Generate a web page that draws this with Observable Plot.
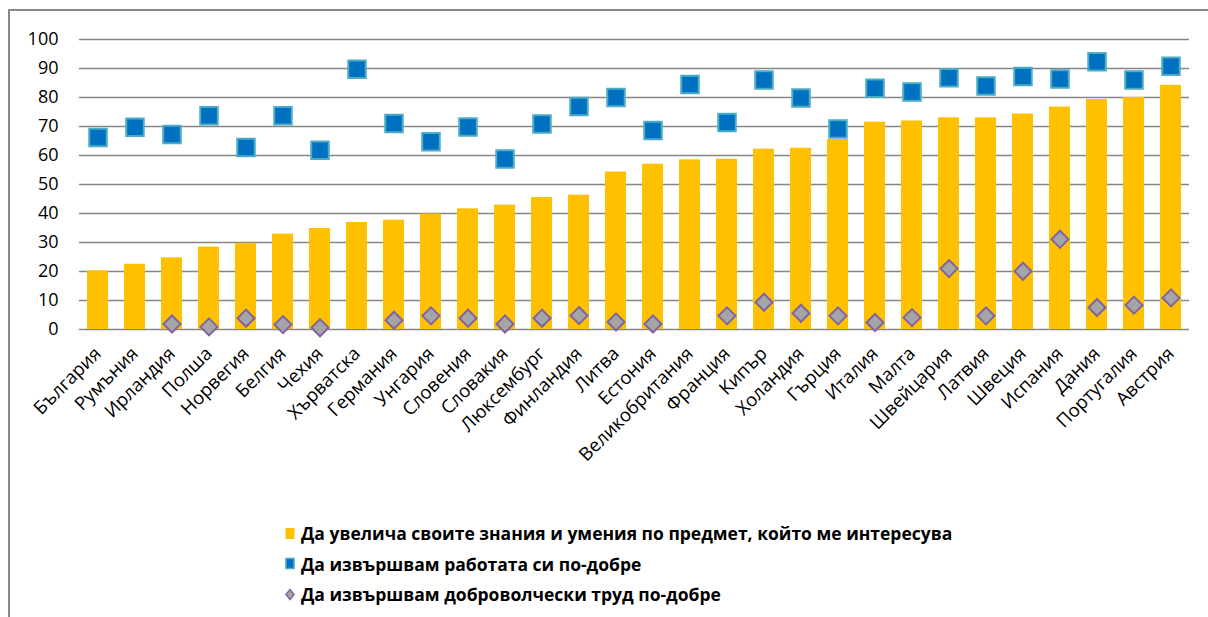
<!DOCTYPE html>
<html><head><meta charset="utf-8">
<script src="https://cdn.jsdelivr.net/npm/d3@7"></script>
<script src="https://cdn.jsdelivr.net/npm/@observablehq/plot@0.6"></script>
<style>
body{margin:0;background:#fff;font-family:"Open Sans",sans-serif;}
#wrap{position:relative;width:1208px;height:617px;overflow:hidden;background:#fff;}
#frame{position:absolute;left:8px;top:9px;width:1300px;height:700px;border-left:2px solid #888;border-top:2px solid #888;}
#chart{position:absolute;left:0;top:0;}
#legend{position:absolute;left:285px;top:518px;font-weight:bold;font-size:17.5px;color:#000;white-space:nowrap;}
.row{height:30.5px;display:flex;align-items:center;}
.row svg{margin-right:6px;}
</style></head>
<body><div id="wrap"><div id="frame"></div><div id="chart"></div><div id="legend"></div></div>
<script>
const countries = ["България","Румъния","Ирландия","Полша","Норвегия","Белгия","Чехия","Хърватска","Германия","Унгария","Словения","Словакия","Люксембург","Финландия","Литва","Естония","Великобритания","Франция","Кипър","Холандия","Гърция","Италия","Малта","Швейцария","Латвия","Швеция","Испания","Дания","Португалия","Австрия"];
const knowledge = [20.2,22.5,24.7,28.4,29.7,32.9,34.8,36.9,37.7,39.8,41.6,42.9,45.5,46.3,54.3,57.0,58.5,58.7,62.2,62.5,65.5,71.5,71.9,73.0,73.0,74.3,76.7,79.3,80.0,84.2];
const work = [66.2,69.7,67.2,73.7,62.8,73.7,61.8,89.7,71.0,64.7,69.8,58.8,70.9,76.9,80.0,68.6,84.5,71.4,86.0,79.8,69.1,83.2,81.9,86.8,84.0,87.2,86.4,92.3,86.0,90.8];
const volunteer = [null,null,1.9,0.9,3.9,1.7,0.6,null,3.2,4.7,3.9,1.9,3.9,4.8,2.6,1.9,null,4.7,9.4,5.6,4.7,2.4,4.1,21.0,4.7,20.1,31.1,7.6,8.4,10.9];
const yTicks = [0,10,20,30,40,50,60,70,80,90,100];
const seriesNames = ["Да увелича своите знания и умения по предмет, който ме интересува","Да извършвам работата си по-добре","Да извършвам доброволчески труд по-добре"];

const data = countries.map((c,i)=>({country:c, knowledge:knowledge[i], work:work[i], volunteer:volunteer[i]}));
const squareSym = {draw(ctx,size){const w=Math.sqrt(size);ctx.rect(-w/2,-w/2,w,w);}};
const diamondSym = {draw(ctx,size){const h=Math.sqrt(size/2);ctx.moveTo(0,-h);ctx.lineTo(h,0);ctx.lineTo(0,h);ctx.lineTo(-h,0);ctx.closePath();}};

const chart = Plot.plot({
  width:1208, height:470, marginLeft:79, marginRight:19, marginTop:39, marginBottom:141,
  x:{domain:countries, paddingInner:0.43, paddingOuter:0.215, label:null},
  y:{domain:[0,100], label:null},
  style:{background:"transparent", fontFamily:"'Open Sans', sans-serif", color:"#000"},
  marks:[
    Plot.gridY(yTicks,{stroke:"#868686", strokeOpacity:1, strokeWidth:1.5}),
    Plot.barY(data,{x:"country", y:"knowledge", fill:"#FFC000"}),
    Plot.dot(data,{x:"country", y:"work", symbol:squareSym, r:9.87, fill:"#0070C0", stroke:"#4BACC6", strokeWidth:2}),
    Plot.dot(data.filter(d=>d.volunteer!=null),{x:"country", y:"volunteer", symbol:diamondSym, r:6.8, fill:"#A5A5A5", stroke:"#8064A2", strokeWidth:2}),
    Plot.axisY(yTicks,{tickSize:0, tickPadding:21, fontSize:18}),
    Plot.axisX({tickSize:0, tickRotate:-45, tickPadding:21, dx:0, fontSize:18.5})
  ]
});
document.getElementById("chart").appendChild(chart);

const markers = [
  '<svg width="10" height="13"><rect x="0.5" y="1" width="9" height="11" fill="#FFC000"/></svg>',
  '<svg width="10" height="13"><rect x="1" y="1.5" width="8" height="10" fill="#0070C0" stroke="#4BACC6" stroke-width="1.5"/></svg>',
  '<svg width="10" height="13"><path d="M5,1.5L9,6.5L5,11.5L1,6.5Z" fill="#A5A5A5" stroke="#8064A2" stroke-width="1.5"/></svg>'
];
const leg = document.getElementById("legend");
seriesNames.forEach((n,i)=>{
  const r = document.createElement("div"); r.className="row";
  r.innerHTML = markers[i] + "<span>"+n+"</span>";
  leg.appendChild(r);
});
</script></body></html>
